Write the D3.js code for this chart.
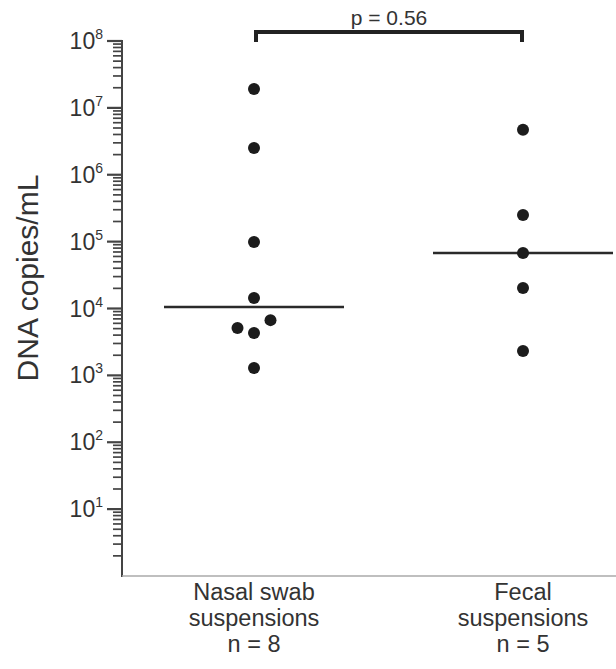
<!DOCTYPE html>
<html>
<head>
<meta charset="utf-8">
<script src="https://cdn.jsdelivr.net/npm/d3@7"></script>
<style>
  html, body { margin: 0; padding: 0; background: #fff; }
  svg { display: block; }
  text { font-family: "Liberation Sans", Arial, Helvetica, sans-serif; fill: #333; }
</style>
</head>
<body>
<svg id="chart" width="616" height="669"></svg>
<script>
// ---- data ----
const categories = ["Nasal swab|suspensions|n = 8", "Fecal|suspensions|n = 5"];
const nasalValues = [1.92e7, 2.52e6, 9.9e4, 1.44e4, 6.7e3, 5.1e3, 4.3e3, 1.29e3];
const fecalValues = [4.69e6, 2.51e5, 6.78e4, 2.03e4, 2.32e3];
const nasalSlot = [0, 0, 0, 0, 1, -1, 0, 0];   // side-by-side slot for overlapping dots
const fecalSlot = [0, 0, 0, 0, 0];
const tickExponents = [1, 2, 3, 4, 5, 6, 7, 8];
const pLabel = "p = 0.56";
const yTitle = "DNA copies/mL";

const groups = [
  { cat: categories[0], values: nasalValues, slots: nasalSlot },
  { cat: categories[1], values: fecalValues, slots: fecalSlot }
];

const svg = d3.select("#chart");
const axisX = 122;

const y = d3.scaleLog().domain([1, 1e8]).range([576, 41]);
const x = d3.scalePoint().domain(categories).range([254, 523]);

// ---- y axis line ----
svg.append("line")
  .attr("x1", axisX).attr("x2", axisX)
  .attr("y1", y(1e8) - 1).attr("y2", y(1) + 1)
  .attr("stroke", "#444").attr("stroke-width", 2);

// bottom baseline
svg.append("line")
  .attr("x1", axisX).attr("x2", 616)
  .attr("y1", y(1)).attr("y2", y(1))
  .attr("stroke", "#aaa").attr("stroke-width", 1.5);

// ---- ticks ----
const minorTicks = [];
for (let e = 0; e < 8; e++) {
  for (let m = 2; m <= 9; m++) minorTicks.push(m * Math.pow(10, e));
}
svg.append("g").selectAll("line.minor").data(minorTicks).join("line")
  .attr("x1", axisX - 9).attr("x2", axisX)
  .attr("y1", d => y(d)).attr("y2", d => y(d))
  .attr("stroke", "#444").attr("stroke-width", 1.7);

svg.append("g").selectAll("line.major").data(tickExponents).join("line")
  .attr("x1", axisX - 15).attr("x2", axisX)
  .attr("y1", d => y(Math.pow(10, d))).attr("y2", d => y(Math.pow(10, d)))
  .attr("stroke", "#444").attr("stroke-width", 2.2);

const lbl = svg.append("g").selectAll("text").data(tickExponents).join("text")
  .attr("x", axisX - 19)
  .attr("y", d => y(Math.pow(10, d)) + 8)
  .attr("text-anchor", "end")
  .style("font-size", "23px");
lbl.append("tspan").text("10");
lbl.append("tspan").attr("dy", -10).style("font-size", "14px").text(d => d);

// ---- y title ----
svg.append("text")
  .attr("transform", `translate(38, 278) rotate(-90)`)
  .attr("text-anchor", "middle")
  .style("font-size", "30px")
  .text(yTitle);

// ---- category labels ----
categories.forEach(c => {
  const t = svg.append("text")
    .attr("text-anchor", "middle")
    .style("font-size", "23.5px");
  c.split("|").forEach((line, i) => {
    t.append("tspan").attr("x", x(c)).attr("y", 600 + i * 26).text(line);
  });
});

// ---- medians ----
groups.forEach(g => {
  const med = d3.median(g.values);
  svg.append("line")
    .attr("x1", x(g.cat) - 90).attr("x2", x(g.cat) + 90)
    .attr("y1", y(med)).attr("y2", y(med))
    .attr("stroke", "#2a2a2a").attr("stroke-width", 2.5);
});

// ---- dots ----
groups.forEach(g => {
  svg.append("g").selectAll("circle")
    .data(g.values.map((v, i) => ({ v, s: g.slots[i] })))
    .join("circle")
    .attr("cx", d => x(g.cat) + d.s * 16.5)
    .attr("cy", d => y(d.v))
    .attr("r", 6)
    .attr("fill", "#1c1c1c");
});

// ---- significance bracket ----
const bx1 = x(categories[0]) + 2, bx2 = x(categories[1]) - 1, by = 32;
svg.append("path")
  .attr("d", `M${bx1},${by + 10}V${by}H${bx2}V${by + 10}`)
  .attr("fill", "none").attr("stroke", "#222").attr("stroke-width", 4);
svg.append("text")
  .attr("x", (bx1 + bx2) / 2).attr("y", 25)
  .attr("text-anchor", "middle")
  .style("font-size", "21px")
  .text(pLabel);
</script>
</body>
</html>
